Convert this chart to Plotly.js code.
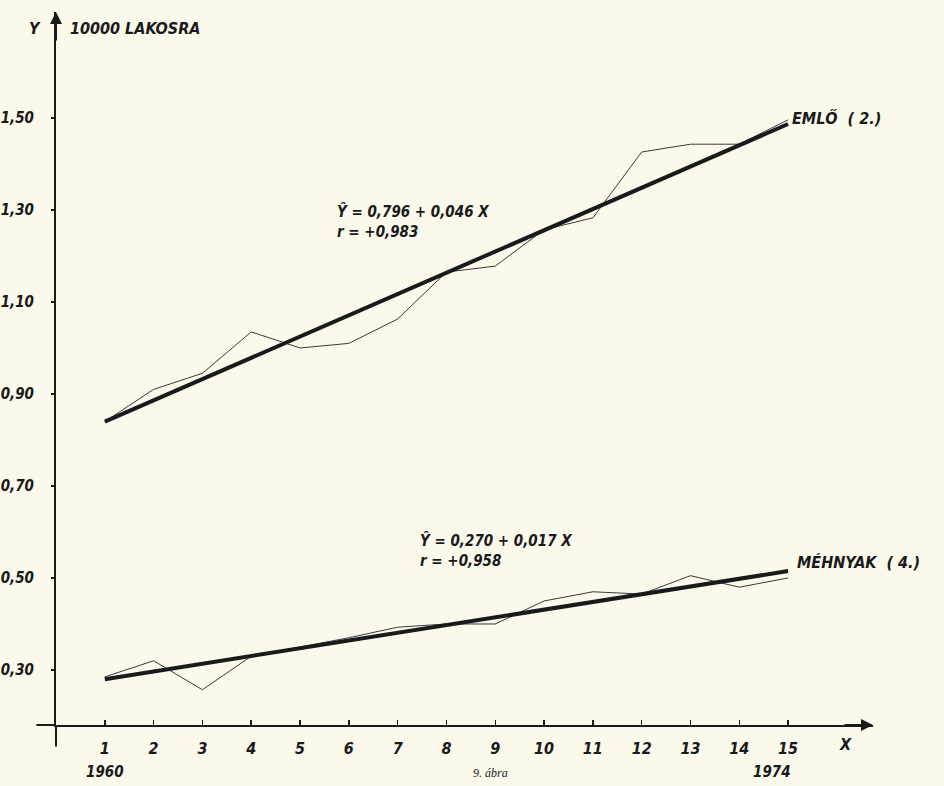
<!DOCTYPE html>
<html>
<head>
<meta charset="utf-8">
<script src="https://cdn.plot.ly/plotly-3.0.1.min.js"></script>
<style>html,body{margin:0;padding:0;background:#fbf9ec;}</style>
</head>
<body>
<div id="chart" style="width:944px;height:786px;"></div>
<script>
// Data
const years = [1,2,3,4,5,6,7,8,9,10,11,12,13,14,15];
const tickLabelsX = ["1","2","3","4","5","6","7","8","9","10","11","12","13","14","15"];
const emloValues = [0.84,0.91,0.945,1.035,1.00,1.01,1.063,1.165,1.178,1.257,1.283,1.426,1.443,1.443,1.496];
const mehnyakValues = [0.285,0.32,0.257,0.33,0.35,0.37,0.393,0.40,0.40,0.45,0.47,0.465,0.505,0.48,0.50];
const trendX = [1,15];
const emloTrend = [0.84,1.487];
const mehnyakTrend = [0.28,0.515];
const yTickVals = [0.30,0.50,0.70,0.90,1.10,1.30,1.50];
const yTickText = ["0,30","0,50","0,70","0,90","1,10","1,30","1,50"];

const hand = "Liberation Sans Narrow, DejaVu Sans Condensed, Liberation Sans, sans-serif";
const ink = "#1a1a1a";
const hf = (size) => ({family: hand, size: size, color: ink, style: "italic", weight: "bold"});

const traces = [
  {x: years, y: emloValues, mode: "lines", line: {color: "#3a3a3a", width: 1}, hoverinfo: "skip"},
  {x: trendX, y: emloTrend, mode: "lines", line: {color: ink, width: 4}, hoverinfo: "skip"},
  {x: years, y: mehnyakValues, mode: "lines", line: {color: "#3a3a3a", width: 1}, hoverinfo: "skip"},
  {x: trendX, y: mehnyakTrend, mode: "lines", line: {color: ink, width: 4}, hoverinfo: "skip"}
];

const layout = {
  width: 944, height: 786,
  paper_bgcolor: "#fbf9ec", plot_bgcolor: "rgba(0,0,0,0)",
  showlegend: false,
  margin: {l: 56, r: 71, t: 12, b: 61},
  xaxis: {
    range: [0, 16.74], showgrid: false, zeroline: false,
    showline: true, linecolor: ink, linewidth: 2,
    tickvals: years, ticktext: tickLabelsX,
    ticks: "inside", ticklen: 5, tickwidth: 1.5, tickcolor: ink,
    ticklabelstandoff: 8,
    tickfont: hf(16)
  },
  yaxis: {
    range: [0.1804, 1.7304], showgrid: false, zeroline: false,
    showline: true, linecolor: ink, linewidth: 2,
    tickvals: yTickVals, ticktext: yTickText,
    ticks: "outside", ticklen: 3, tickwidth: 1.5, tickcolor: ink,
    ticklabelstandoff: 14,
    tickfont: hf(15)
  },
  shapes: [
    {type: "line", xref: "paper", yref: "paper", x0: -0.024, x1: 0, y0: 0, y1: 0, line: {color: ink, width: 2}},
    {type: "line", xref: "paper", yref: "paper", x0: 0, x1: 0, y0: -0.03, y1: 0, line: {color: ink, width: 2}}
  ],
  annotations: [
    {xref: "paper", yref: "paper", x: 0, y: 1, ax: 0, ay: 30, showarrow: true, arrowhead: 2, arrowsize: 1.2, arrowwidth: 2, arrowcolor: ink, text: ""},
    {xref: "paper", yref: "paper", x: 1, y: 0, ax: -30, ay: 0, showarrow: true, arrowhead: 2, arrowsize: 1.2, arrowwidth: 2, arrowcolor: ink, text: ""},
    {xref: "paper", yref: "y", x: -0.026, y: 1.695, text: "Y", showarrow: false, xanchor: "center", font: hf(16)},
    {xref: "x", yref: "y", x: 0.24, y: 1.695, text: "10000 LAKOSRA", showarrow: false, xanchor: "left", font: hf(16)},
    {xref: "x", yref: "y", x: 5.72, y: 1.276, text: "Ŷ = 0,796 + 0,046 X<br>r = +0,983", align: "left", showarrow: false, xanchor: "left", font: hf(15)},
    {xref: "x", yref: "y", x: 7.42, y: 0.559, text: "Ŷ = 0,270 + 0,017 X<br>r = +0,958", align: "left", showarrow: false, xanchor: "left", font: hf(15)},
    {xref: "x", yref: "y", x: 15.04, y: 1.50, text: "EMLŐ  ( 2.)", showarrow: false, xanchor: "left", font: hf(16)},
    {xref: "x", yref: "y", x: 15.14, y: 0.533, text: "MÉHNYAK  ( 4.)", showarrow: false, xanchor: "left", font: hf(16)},
    {xref: "x", yref: "paper", x: 16.17, y: -0.028, text: "X", showarrow: false, yanchor: "middle", font: hf(16)},
    {xref: "x", yref: "paper", x: 1, y: -0.066, text: "1960", showarrow: false, yanchor: "middle", font: hf(15)},
    {xref: "x", yref: "paper", x: 14.67, y: -0.066, text: "1974", showarrow: false, yanchor: "middle", font: hf(15)},
    {xref: "x", yref: "paper", x: 8.9, y: -0.068, text: "9. ábra", showarrow: false, yanchor: "middle", font: {family: "Liberation Serif, serif", size: 12, color: ink, style: "italic"}}
  ]
};

Plotly.newPlot("chart", traces, layout, {staticPlot: true, displayModeBar: false});
</script>
</body>
</html>
